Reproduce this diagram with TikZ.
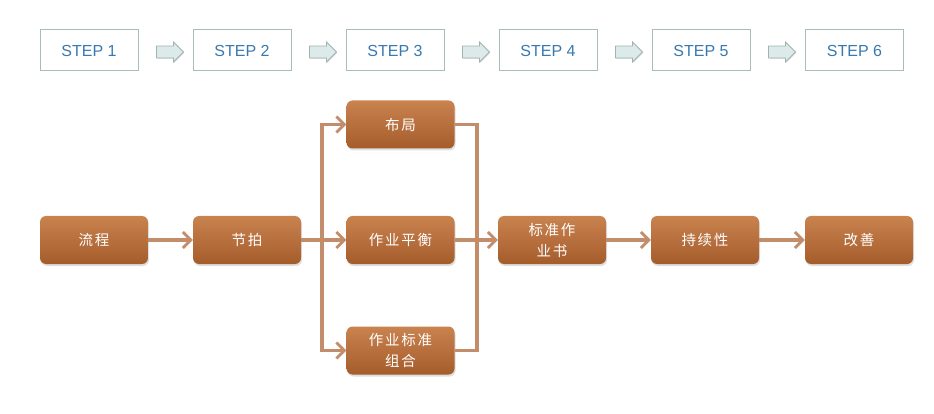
\documentclass[tikz,border=0pt]{standalone}
\usepackage{fontspec}
\setmainfont{Liberation Sans}
\newfontfamily\cjk[LetterSpace=12]{Noto Sans CJK SC}
\usetikzlibrary{arrows.meta,shapes.arrows,shadows}
\definecolor{steptext}{HTML}{3779B0}
\definecolor{stepline}{HTML}{A9BEBB}
\definecolor{arrfill}{HTML}{DCEAEA}
\definecolor{arrline}{HTML}{9FB3B0}
\definecolor{boxtop}{HTML}{C9834F}
\definecolor{boxbot}{HTML}{A55C2B}
\definecolor{flow}{HTML}{C38D6B}
\tikzset{
  stepbox/.style={draw=stepline,line width=1pt,minimum width=98pt,minimum height=41pt,
    text=steptext,font=\fontsize{16}{19}\selectfont},
  steparrow/.style={single arrow,draw=arrline,fill=arrfill,line width=0.8pt,
    inner xsep=0pt,inner ysep=5.5pt,minimum width=20pt,minimum height=27pt,
    single arrow head extend=4pt,
    drop shadow={opacity=0.2,shadow xshift=1pt,shadow yshift=-1pt}},
  workbox/.style={rounded corners=6pt,top color=boxtop,bottom color=boxbot,
    minimum width=108pt,minimum height=48pt,text=white,align=center,
    font=\cjk\fontsize{14.5}{21}\selectfont,
    drop shadow={opacity=0.25,shadow xshift=1pt,shadow yshift=-2pt}},
  flowline/.style={draw=flow,line width=3.5pt,-{Straight Barb[length=8pt,width=16pt,line width=2.8pt]}}
}
\begin{document}
\begin{tikzpicture}[x=1pt,y=-1pt]
  \useasboundingbox (0,0) rectangle (934,414);
  % steps
  \node[stepbox] (s1) at (89,50.5) {STEP 1};
  \node[stepbox] (s2) at (242,50.5) {STEP 2};
  \node[stepbox] (s3) at (395,50.5) {STEP 3};
  \node[stepbox] (s4) at (548,50.5) {STEP 4};
  \node[stepbox] (s5) at (701,50.5) {STEP 5};
  \node[stepbox] (s6) at (854.5,50.5) {STEP 6};
  \node[steparrow] (a1) at (167,52) {};
  \node[steparrow] (a2) at (320,52) {};
  \node[steparrow] (a3) at (473,52) {};
  \node[steparrow] (a4) at (626,52) {};
  \node[steparrow] (a5) at (779,52) {};
  % work boxes
  \node[workbox] (liucheng) at (94,240) {流程};
  \node[workbox] (jiepai)   at (247,240) {节拍};
  \node[workbox] (buju)     at (400.5,124.5) {布局};
  \node[workbox] (pingheng) at (400.5,240) {作业平衡};
  \node[workbox] (zuhe)     at (400.5,350.5) {作业标准\\组合};
  \node[workbox] (biaozhun) at (552,240) {标准作\\业书};
  \node[workbox] (chixu)    at (705,240) {持续性};
  \node[workbox] (gaishan)  at (859,240) {改善};
  \coordinate (split) at (322,240);
  \coordinate (merge) at (477,240);
  % connectors
  \draw[flowline] (liucheng) -- (jiepai);
  \draw[flowline,-] (jiepai) -- (split);
  \draw[flowline] (split) |- (buju);
  \draw[flowline] (split) |- (zuhe);
  \draw[flowline] (split) -- (pingheng);
  \draw[flowline,-] (buju) -| (merge) |- (zuhe);
  \draw[flowline] (pingheng) -- (biaozhun);
  \draw[flowline] (biaozhun) -- (chixu);
  \draw[flowline] (chixu) -- (gaishan);
\end{tikzpicture}
\end{document}
